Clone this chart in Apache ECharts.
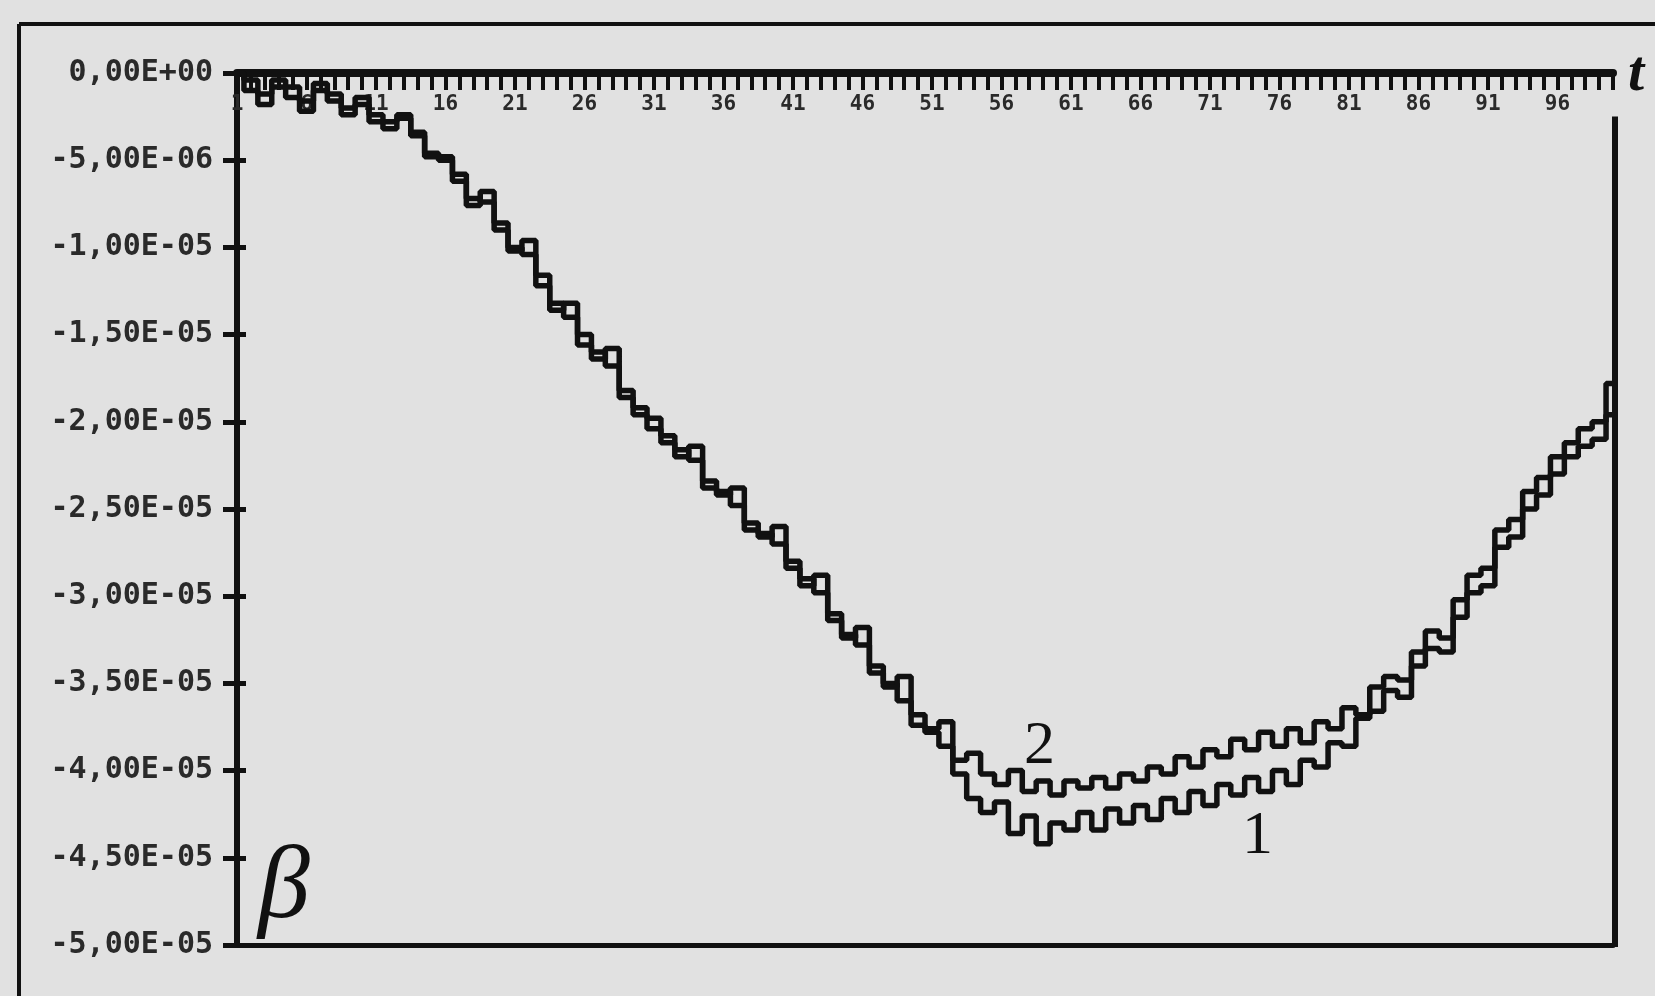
<!DOCTYPE html>
<html>
<head>
<meta charset="utf-8">
<script src="https://cdn.jsdelivr.net/npm/echarts@6/dist/echarts.min.js"></script>
<style>
  html, body { margin: 0; padding: 0; background: #e1e1e1; }
  #chart { width: 1655px; height: 996px; }
</style>
</head>
<body>
<div id="chart"></div>
<script>
// Time steps t = 1 .. 100
const steps = [];
for (let i = 1; i <= 100; i++) steps.push(String(i));

// β for the two runs, in units of 1e-6
const curve1 = [
  0, -0.4, -1.2, -0.4, -0.8, -1.6, -0.6, -1.2, -2.0, -1.4,
  -2.4, -2.8, -2.4, -3.4, -4.6, -5.0, -6.2, -7.2, -7.4, -9.0,
  -10.0, -10.4, -12.2, -13.2, -14.0, -15.6, -16.0, -16.8, -18.6, -19.2,
  -20.4, -21.2, -21.6, -22.2, -23.8, -24.0, -24.8, -26.2, -26.4, -27.0,
  -28.4, -29.0, -29.8, -31.4, -32.2, -32.8, -34.4, -35.0, -36.0, -37.4,
  -37.8, -38.6, -40.2, -41.6, -42.4, -41.8, -43.6, -42.6, -44.2, -43.0,
  -43.4, -42.4, -43.4, -42.2, -43.0, -42.0, -42.8, -41.6, -42.4, -41.2,
  -42.0, -40.8, -41.4, -40.4, -41.2, -40.0, -40.8, -39.4, -39.8, -38.4,
  -38.6, -37.0, -36.6, -35.4, -35.8, -34.0, -33.0, -33.2, -31.2, -29.8,
  -29.4, -27.2, -26.6, -25.0, -24.2, -23.0, -22.0, -21.4, -21.0, -19.6
];
const curve2 = [
  0, -1.0, -1.8, -0.8, -1.4, -2.2, -1.0, -1.6, -2.4, -1.8,
  -2.8, -3.2, -2.6, -3.6, -4.8, -4.8, -5.8, -7.6, -6.8, -8.6,
  -10.2, -9.6, -11.6, -13.6, -13.2, -15.0, -16.4, -15.8, -18.2, -19.6,
  -19.8, -20.8, -22.0, -21.4, -23.4, -24.2, -23.8, -25.8, -26.6, -26.0,
  -28.0, -29.4, -28.8, -31.0, -32.4, -31.8, -34.0, -35.2, -34.6, -36.8,
  -37.6, -37.2, -39.4, -39.0, -40.2, -40.8, -40.0, -41.2, -40.6, -41.4,
  -40.6, -41.0, -40.4, -41.0, -40.2, -40.6, -39.8, -40.2, -39.2, -39.8,
  -38.8, -39.2, -38.2, -38.8, -37.8, -38.6, -37.6, -38.4, -37.2, -37.6,
  -36.4, -36.8, -35.2, -34.6, -34.8, -33.2, -32.0, -32.4, -30.2, -28.8,
  -28.4, -26.2, -25.6, -24.0, -23.2, -22.0, -21.2, -20.4, -20.0, -17.8
];

// Value axis tick labels, top to bottom
const yTickLabels = [
  '0,00E+00', '-5,00E-06', '-1,00E-05', '-1,50E-05', '-2,00E-05', '-2,50E-05',
  '-3,00E-05', '-3,50E-05', '-4,00E-05', '-4,50E-05', '-5,00E-05'
];

const INK = '#111';
const chart = echarts.init(document.getElementById('chart'), null, { renderer: 'canvas' });

const option = {
  backgroundColor: '#e1e1e1',
  animation: false,
  grid: { left: 237, right: 42, top: 73, bottom: 51 },
  xAxis: [
    {
      type: 'category',
      data: steps,
      position: 'top',
      boundaryGap: false,
      axisLine: { show: true, onZero: false, lineStyle: { color: INK, width: 8 } },
      axisTick: { show: true, inside: true, length: 17, interval: 0, lineStyle: { color: INK, width: 4 } },
      axisLabel: {
        show: true, inside: true, interval: 4, margin: 21,
        color: '#2a2a2a', fontFamily: 'DejaVu Sans Mono', fontWeight: 'bold', fontSize: 21
      },
      splitLine: { show: false }
    },
    {
      type: 'category',
      data: steps,
      position: 'bottom',
      boundaryGap: false,
      axisLine: { show: true, onZero: false, lineStyle: { color: INK, width: 5 } },
      axisTick: { show: false },
      axisLabel: { show: false },
      splitLine: { show: false }
    }
  ],
  yAxis: [
    {
      type: 'value',
      min: -50, max: 0, interval: 5,
      position: 'left',
      axisLine: { show: true, onZero: false, lineStyle: { color: INK, width: 6 } },
      axisTick: { show: true, length: 14, lineStyle: { color: INK, width: 5 } },
      axisLabel: {
        margin: 24,
        color: '#2a2a2a', fontFamily: 'DejaVu Sans Mono', fontWeight: 'bold', fontSize: 30,
        formatter: v => yTickLabels[Math.round(-v / 5)]
      },
      splitLine: { show: false }
    },
    {
      type: 'value',
      min: -50, max: 0, interval: 5,
      position: 'left',
      axisLine: { show: false, onZero: false },
      axisTick: { show: true, inside: true, length: 9, lineStyle: { color: INK, width: 5 } },
      axisLabel: { show: false },
      splitLine: { show: false }
    }
  ],
  series: [
    {
      name: '1', type: 'line', step: 'middle', data: curve1,
      xAxisIndex: 0, yAxisIndex: 0, symbol: 'none',
      lineStyle: { color: INK, width: 5.5 }
    },
    {
      name: '2', type: 'line', step: 'middle', data: curve2,
      xAxisIndex: 0, yAxisIndex: 0, symbol: 'none',
      lineStyle: { color: INK, width: 5.5 }
    }
  ],
  graphic: [
    // outer chart-area frame
    { type: 'line', shape: { x1: 19, y1: 24, x2: 1655, y2: 24 }, style: { stroke: INK, lineWidth: 4 } },
    { type: 'line', shape: { x1: 19, y1: 24, x2: 19, y2: 996 }, style: { stroke: INK, lineWidth: 4 } },
    // axis names
    { type: 'text', left: 1628, top: 46,
      style: { text: 't', fill: INK, font: 'italic bold 58px "Liberation Serif"' } },
    { type: 'text', left: 258, top: 838,
      style: { text: 'β', fill: INK, font: 'italic 104px "Liberation Serif"' } },
    // curve labels
    { type: 'text', left: 1024, top: 716,
      style: { text: '2', fill: INK, font: '62px "Liberation Serif"' } },
    { type: 'text', left: 1242, top: 806,
      style: { text: '1', fill: INK, font: '62px "Liberation Serif"' } }
  ]
};

chart.setOption(option);

// right edge of the plot frame, stopping short of the time axis
const lastIdx = steps.length - 1;
const pTop = chart.convertToPixel({ xAxisIndex: 0, yAxisIndex: 0 }, [lastIdx, -2.5]);
const pBot = chart.convertToPixel({ xAxisIndex: 0, yAxisIndex: 0 }, [lastIdx, -50]);
const gx = pTop[0] + 2;
chart.setOption({
  graphic: option.graphic.concat([
    { type: 'line', shape: { x1: gx, y1: pTop[1], x2: gx, y2: pBot[1] + 2 }, style: { stroke: INK, lineWidth: 6 } }
  ])
});
</script>
</body>
</html>
